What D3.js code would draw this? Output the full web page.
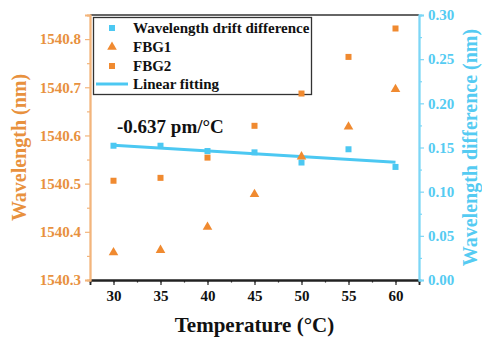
<!DOCTYPE html>
<html><head><meta charset="utf-8">
<script src="https://cdn.jsdelivr.net/npm/d3@7"></script>
<style>body{margin:0;background:#fff}svg{display:block}</style>
</head><body>
<svg id="c" width="482" height="337"></svg>
<script>
const temps = [30, 35, 40, 45, 50, 55, 60];
const fbg1 = [1540.357, 1540.362, 1540.410, 1540.478, 1540.556, 1540.618, 1540.696];
const fbg2 = [1540.506, 1540.512, 1540.554, 1540.620, 1540.687, 1540.763, 1540.822];
const diff = [0.152, 0.152, 0.146, 0.1445, 0.133, 0.148, 0.128];
const fitX = [30, 60];
const fitY = [0.1525, 0.1334];
const xTicks = [30, 35, 40, 45, 50, 55, 60];
const leftTicks = [1540.3, 1540.4, 1540.5, 1540.6, 1540.7, 1540.8];
const rightTicks = [0, 0.05, 0.10, 0.15, 0.20, 0.25, 0.30];
const legendLabels = ["Wavelength drift difference", "FBG1", "FBG2", "Linear fitting"];
const annotation = "-0.637 pm/°C";

const ORANGE = "#F08A30", ORANGE_T = "#E8913E", ORANGE_AX = "#F3B57C";
const BLUE = "#4CC8F2", BLUE_T = "#55CBF2", BLUE_AX = "#7CD6F6";
const FONT = "'Liberation Serif','Times New Roman',serif";

const L = 90, R = 419, T = 15, B = 280;
const svg = d3.select("#c");
const x = d3.scaleLinear().domain([27.5, 62.5]).range([L, R]);
const yL = d3.scaleLinear().domain([1540.3, 1540.85]).range([B, T]);
const yR = d3.scaleLinear().domain([0, 0.30]).range([B, T]);

// top frame
svg.append("line").attr("x1", L).attr("x2", R).attr("y1", T).attr("y2", T)
  .attr("stroke", "#333").attr("stroke-width", 1.5);

// bottom axis
const gx = svg.append("g").attr("transform", `translate(0,${B})`);
gx.call(d3.axisBottom(x).tickValues(d3.range(27.5, 62.51, 2.5)).tickSize(2.5).tickFormat(""));
gx.call(g => g.selectAll(".tick line").attr("stroke", "#222").attr("stroke-width", 1.2));
const gx2 = svg.append("g").attr("transform", `translate(0,${B})`);
gx2.call(d3.axisBottom(x).tickValues(xTicks).tickSize(5).tickPadding(5).tickFormat(d3.format("d")));
gx2.selectAll(".tick line").attr("stroke", "#222").attr("stroke-width", 1.2);
gx2.selectAll(".tick text").attr("font-family", FONT).attr("font-weight", "bold").attr("font-size", 15).attr("fill", "#111");
[gx, gx2].forEach(g => g.select(".domain").attr("stroke", "#222").attr("stroke-width", 1.8));

// left axis
const gl = svg.append("g").attr("transform", `translate(${L},0)`);
gl.call(d3.axisLeft(yL).tickValues(d3.range(1540.35, 1540.86, 0.1)).tickSize(3).tickFormat(""));
const gl2 = svg.append("g").attr("transform", `translate(${L},0)`);
gl2.call(d3.axisLeft(yL).tickValues(leftTicks).tickSize(5).tickPadding(4).tickFormat(d3.format(".1f")));
[gl, gl2].forEach(g => {
  g.select(".domain").attr("stroke", ORANGE_AX).attr("stroke-width", 1.8);
  g.selectAll(".tick line").attr("stroke", ORANGE_AX).attr("stroke-width", 1.2);
});
gl2.selectAll(".tick text").attr("font-family", FONT).attr("font-weight", "bold").attr("font-size", 15).attr("fill", ORANGE_T);

// right axis
const gr = svg.append("g").attr("transform", `translate(${R},0)`);
gr.call(d3.axisRight(yR).tickValues(d3.range(0.025, 0.3, 0.05)).tickSize(3).tickFormat(""));
const gr2 = svg.append("g").attr("transform", `translate(${R},0)`);
gr2.call(d3.axisRight(yR).tickValues(rightTicks).tickSize(5).tickPadding(4).tickFormat(d3.format(".2f")));
[gr, gr2].forEach(g => {
  g.select(".domain").attr("stroke", BLUE_AX).attr("stroke-width", 1.8);
  g.selectAll(".tick line").attr("stroke", BLUE_AX).attr("stroke-width", 1.2);
});
gr2.selectAll(".tick text").attr("font-family", FONT).attr("font-weight", "bold").attr("font-size", 15).attr("fill", BLUE_T);

// axis titles
svg.append("text").attr("transform", `translate(26,${(T + B) / 2}) rotate(-90)`)
  .attr("text-anchor", "middle").attr("font-family", FONT).attr("font-weight", "bold")
  .attr("font-size", 20).attr("fill", ORANGE_T).text("Wavelength (nm)");
svg.append("text").attr("transform", `translate(477,${(T + B) / 2}) rotate(-90)`)
  .attr("text-anchor", "middle").attr("font-family", FONT).attr("font-weight", "bold")
  .attr("font-size", 20).attr("fill", BLUE_T).text("Wavelength difference (nm)");
svg.append("text").attr("x", (L + R) / 2).attr("y", 332)
  .attr("text-anchor", "middle").attr("font-family", FONT).attr("font-weight", "bold")
  .attr("font-size", 21).attr("fill", "#111").text("Temperature (°C)");

// legend (drawn beneath data marks)
const tri = d3.symbol().type(d3.symbolTriangle).size(40);
const sq = 6;
const lg = svg.append("g");
lg.append("rect").attr("x", 93.5).attr("y", 17.5).attr("width", 218).attr("height", 77)
  .attr("fill", "#fff").attr("stroke", "#333").attr("stroke-width", 1.3);
const rowY = [28, 47, 66, 84];
legendLabels.forEach((lab, i) => {
  lg.append("text").attr("x", 133).attr("y", rowY[i] + 5).attr("font-family", FONT)
    .attr("font-weight", "bold").attr("font-size", 15).attr("fill", "#111").text(lab);
});
lg.append("rect").attr("x", 112 - 3).attr("y", rowY[0] - 3).attr("width", 6).attr("height", 6).attr("fill", BLUE);
lg.append("path").attr("d", tri).attr("transform", `translate(112,${rowY[1]})`).attr("fill", ORANGE);
lg.append("rect").attr("x", 112 - 3).attr("y", rowY[2] - 3).attr("width", 6).attr("height", 6).attr("fill", ORANGE);
lg.append("line").attr("x1", 96).attr("x2", 128).attr("y1", rowY[3]).attr("y2", rowY[3])
  .attr("stroke", BLUE).attr("stroke-width", 3);

// fit line
svg.append("path").datum(fitX.map((d, i) => [d, fitY[i]]))
  .attr("d", d3.line().x(d => x(d[0])).y(d => yR(d[1])))
  .attr("stroke", BLUE).attr("stroke-width", 3).attr("fill", "none");

// markers
svg.append("g").selectAll("rect").data(temps.map((t, i) => [t, diff[i]])).join("rect")
  .attr("x", d => x(d[0]) - sq / 2).attr("y", d => yR(d[1]) - sq / 2)
  .attr("width", sq).attr("height", sq).attr("fill", BLUE);
svg.append("g").selectAll("path").data(temps.map((t, i) => [t, fbg1[i]])).join("path")
  .attr("d", tri).attr("transform", d => `translate(${x(d[0])},${yL(d[1])})`).attr("fill", ORANGE);
svg.append("g").selectAll("rect").data(temps.map((t, i) => [t, fbg2[i]])).join("rect")
  .attr("x", d => x(d[0]) - sq / 2).attr("y", d => yL(d[1]) - sq / 2)
  .attr("width", sq).attr("height", sq).attr("fill", ORANGE);

// annotation
svg.append("text").attr("x", 117).attr("y", 133).attr("font-family", FONT).attr("font-weight", "bold")
  .attr("font-size", 19).attr("fill", "#111").text(annotation);
</script>
</body></html>
